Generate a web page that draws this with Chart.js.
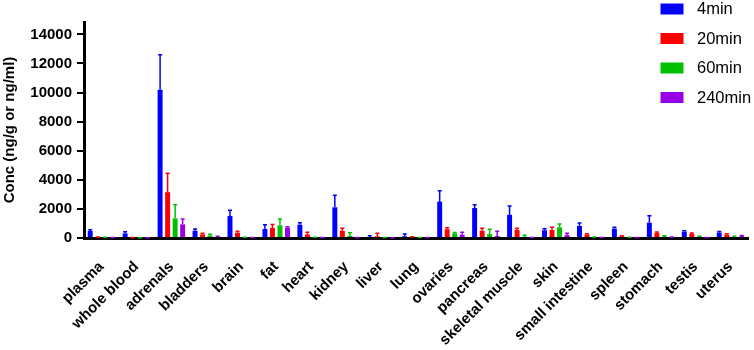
<!DOCTYPE html>
<html>
<head>
<meta charset="utf-8">
<script src="https://cdn.jsdelivr.net/npm/chart.js@4/dist/chart.umd.min.js"></script>
<style>
  html, body { margin: 0; padding: 0; background: #fff; }
  #wrap { width: 754px; height: 350px; }
</style>
</head>
<body>
<div id="wrap"><canvas id="c" width="754" height="350"></canvas></div>
<script>
const categories = ["plasma", "whole blood", "adrenals", "bladders", "brain", "fat", "heart", "kidney", "liver", "lung", "ovaries", "pancreas", "skeletal muscle", "skin", "small intestine", "spleen", "stomach", "testis", "uterus"];
const seriesLabels = ["4min", "20min", "60min", "240min"];

const values4 = [480, 320, 10200, 500, 1510, 620, 920, 2110, 70, 120, 2500, 2060, 1600, 530, 825, 640, 1050, 440, 380];
const err4 = [90, 110, 2400, 120, 390, 295, 130, 830, 90, 150, 750, 230, 600, 110, 205, 95, 480, 60, 60];

const values20 = [50, 30, 3150, 250, 365, 690, 250, 500, 120, 50, 600, 500, 550, 550, 230, 120, 340, 280, 240];
const err20 = [20, 10, 1300, 70, 105, 230, 140, 170, 200, 30, 110, 170, 120, 185, 70, 40, 80, 60, 60];

const values60 = [40, 10, 1350, 160, 30, 870, 30, 140, 20, 20, 320, 270, 90, 735, 50, 40, 120, 90, 90];
const err60 = [20, 5, 940, 90, 20, 430, 15, 225, 20, 10, 60, 330, 95, 225, 20, 20, 40, 30, 30];

const values240 = [20, 10, 940, 90, 30, 710, 20, 30, 10, 20, 230, 140, 20, 200, 20, 20, 50, 20, 140];
const err240 = [10, 5, 360, 30, 10, 70, 10, 10, 10, 10, 160, 320, 10, 120, 10, 10, 20, 10, 40];

const yTickValues = [0, 2000, 4000, 6000, 8000, 10000, 12000, 14000];
const yTitle = "Conc (ng/g or ng/ml)";

const colors = ["#0000ff", "#ff0000", "#00c000", "#9900e6"];
const FONT = "'Liberation Sans', Arial, Helvetica, sans-serif";

const allValues = [values4, values20, values60, values240];
const allErrors = [err4, err20, err60, err240];

const datasets = seriesLabels.map((lab, i) => ({
  label: lab,
  data: allValues[i],
  errors: allErrors[i],
  backgroundColor: colors[i],
  borderColor: colors[i],
  borderWidth: 0,
  categoryPercentage: 0.86,
  barPercentage: 0.66
}));

const errorBarPlugin = {
  id: 'errorBars',
  afterDatasetsDraw(chart) {
    const ctx = chart.ctx;
    const yScale = chart.scales.y;
    chart.data.datasets.forEach((ds, i) => {
      const meta = chart.getDatasetMeta(i);
      meta.data.forEach((bar, j) => {
        const v = ds.data[j];
        const e = ds.errors[j];
        const yTop = yScale.getPixelForValue(v + e);
        ctx.save();
        ctx.strokeStyle = ds.backgroundColor;
        ctx.lineWidth = 1.5;
        ctx.beginPath();
        ctx.moveTo(bar.x, bar.y);
        ctx.lineTo(bar.x, yTop);
        ctx.moveTo(bar.x - 2, yTop);
        ctx.lineTo(bar.x + 2, yTop);
        ctx.stroke();
        ctx.restore();
      });
    });
  }
};

const legendPlugin = {
  id: 'customLegend',
  afterDraw(chart) {
    const ctx = chart.ctx;
    ctx.save();
    chart.data.datasets.forEach((ds, i) => {
      const cy = 9 + i * 29.5;
      ctx.fillStyle = ds.backgroundColor;
      ctx.fillRect(660.5, cy - 5.5, 23, 11);
      ctx.fillStyle = '#000';
      ctx.font = "16.5px " + FONT;
      ctx.textBaseline = 'middle';
      ctx.textAlign = 'left';
      ctx.fillText(ds.label, 697, cy + 0.5);
    });
    ctx.restore();
  }
};

new Chart(document.getElementById('c'), {
  type: 'bar',
  data: { labels: categories, datasets: datasets },
  options: {
    responsive: false,
    animation: false,
    devicePixelRatio: 1,
    layout: { padding: { top: 22, right: 6, left: 0, bottom: 0 } },
    plugins: {
      legend: { display: false },
      tooltip: { enabled: false }
    },
    scales: {
      x: {
        z: 1,
        grid: { display: false, drawTicks: false },
        border: { display: true, color: '#000', width: 3 },
        ticks: {
          color: '#000',
          font: { family: FONT, size: 15, weight: 'bold' },
          maxRotation: 45,
          minRotation: 45,
          autoSkip: false,
          padding: 20
        },
        afterFit(scale) {
          scale.height = 112;
          scale.paddingLeft = 0;
          scale.paddingRight = 0;
        }
      },
      y: {
        min: 0,
        max: 14850,
        afterBuildTicks(axis) { axis.ticks = yTickValues.map(v => ({ value: v })); },
        grid: { drawOnChartArea: false, drawTicks: true, tickLength: 7, color: '#000', lineWidth: 2 },
        border: { display: true, color: '#000', width: 3 },
        ticks: {
          color: '#000',
          font: { family: FONT, size: 15, weight: 'bold' },
          padding: 5,
          callback: (v) => String(v)
        },
        title: {
          display: true,
          text: yTitle,
          color: '#000',
          font: { family: FONT, size: 15, weight: 'bold' },
          padding: { top: 1, bottom: 0 }
        },
        afterFit(scale) {
          scale.width = 84;
          scale.paddingTop = 0;
          scale.paddingBottom = 0;
        }
      }
    }
  },
  plugins: [errorBarPlugin, legendPlugin]
});
</script>
</body>
</html>
